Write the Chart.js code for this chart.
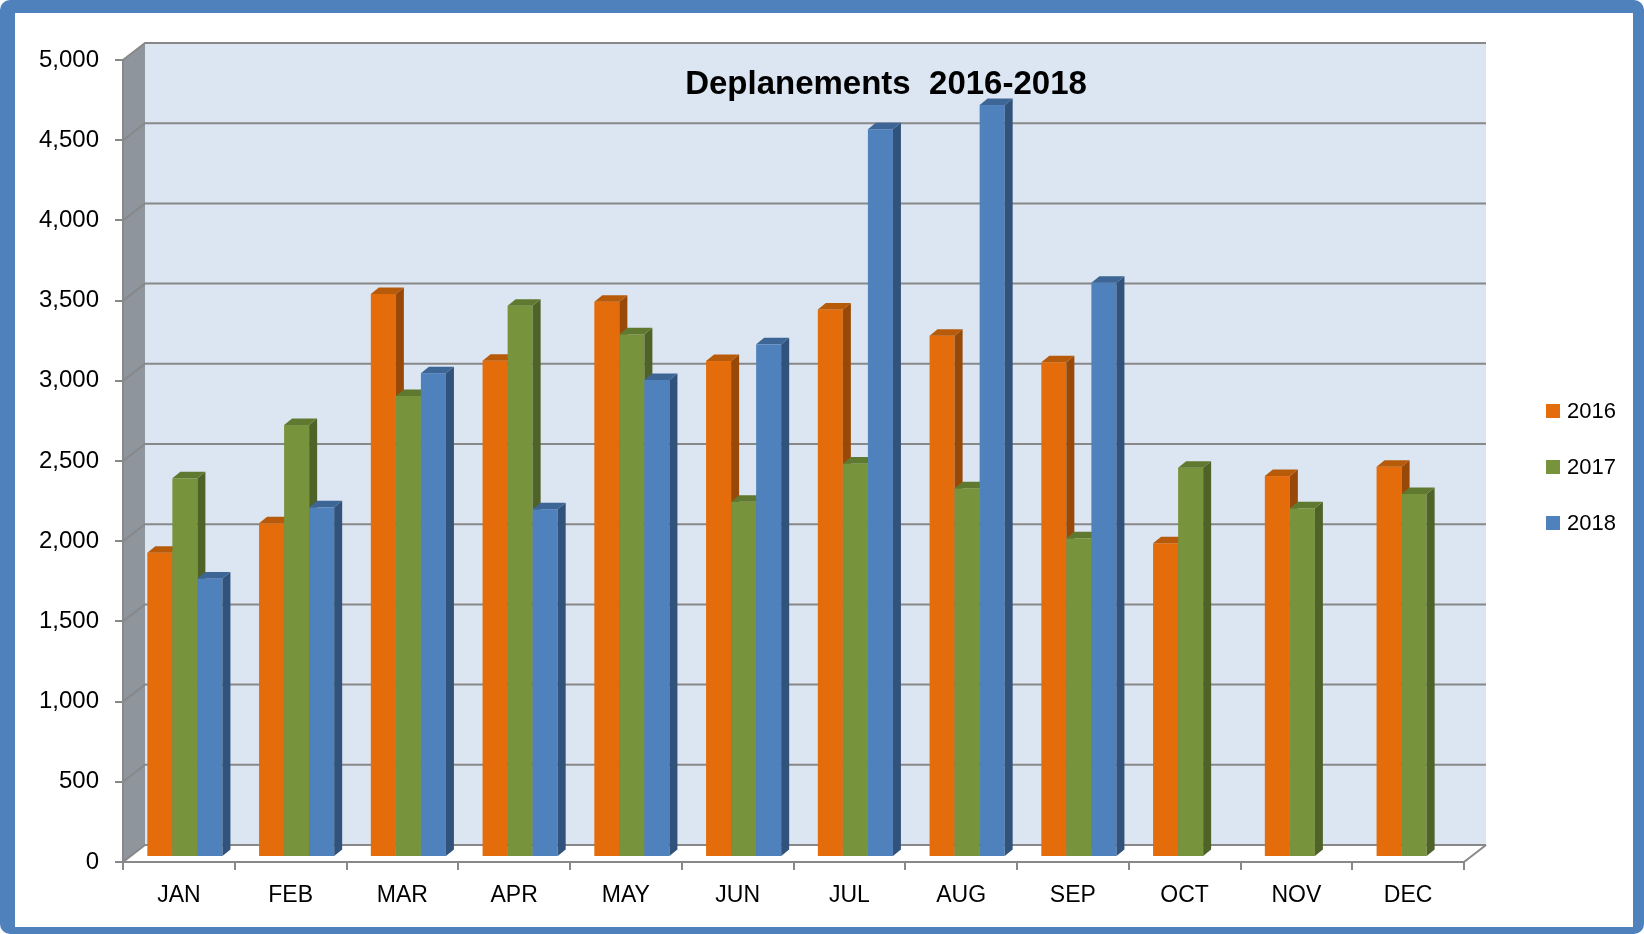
<!DOCTYPE html>
<html>
<head>
<meta charset="utf-8">
<title>Deplanements 2016-2018</title>
<script src="https://cdn.jsdelivr.net/npm/chart.js@4.4.0/dist/chart.umd.min.js"></script>
<style>
  html, body { margin: 0; padding: 0; background: #fff; }
  #frame {
    position: absolute; left: 0; top: 0; width: 1644px; height: 934px;
    box-sizing: border-box; background: #fff;
    border-style: solid; border-color: #4f81bd;
    border-width: 13px 11px 7px 15px; border-radius: 10px;
  }
  #chart { position: absolute; left: 0; top: 0; }
</style>
</head>
<body>
<div id="frame"></div>
<canvas id="chart" width="1644" height="934"></canvas>
<script>
// data
const months = ["JAN", "FEB", "MAR", "APR", "MAY", "JUN", "JUL", "AUG", "SEP", "OCT", "NOV", "DEC"];
const years = ["2016", "2017", "2018"];
const values2016 = [1897, 2080, 3510, 3094, 3462, 3092, 3414, 3250, 3084, 1956, 2375, 2433];
const values2017 = [2361, 2693, 2874, 3437, 3259, 2215, 2454, 2299, 1987, 2427, 2174, 2263];
const values2018 = [1737, 2180, 3016, 2168, 2974, 3196, 4537, 4688, 3580, null, null, null];
const yTicks = [0, 500, 1000, 1500, 2000, 2500, 3000, 3500, 4000, 4500, 5000];

// front / side / top colours per series
const faceColors = ["#e46c0a", "#77933c", "#4f81bd"];
const sideColors = ["#984807", "#4f6228", "#31527a"];
const topColors = ["#b75a0a", "#5f7a30", "#3d6696"];

const FONT = '"Liberation Sans", Arial, sans-serif';
const GRID = "#888888";

const DX = 22, DY = 17;   // depth of the walls
const BX = 6, BY = 5;     // bars sit a little behind the front edge
const SX = 8, SY = 6.5;   // depth of each bar

function poly(ctx, pts, fill) {
  ctx.beginPath();
  ctx.moveTo(pts[0][0], pts[0][1]);
  for (let i = 1; i < pts.length; i++) ctx.lineTo(pts[i][0], pts[i][1]);
  ctx.closePath();
  ctx.fillStyle = fill;
  ctx.fill();
}

const box3d = {
  id: "box3d",
  beforeDraw(chart) {
    const { ctx, chartArea: a, scales } = chart;
    const y = scales.y;
    ctx.save();
    // back wall
    ctx.fillStyle = "#dce6f2";
    ctx.fillRect(a.left + DX, a.top - DY, a.right - a.left, a.bottom - a.top);
    // left wall
    poly(ctx, [[a.left, a.top], [a.left + DX, a.top - DY], [a.left + DX, a.bottom - DY], [a.left, a.bottom]], "#8e959d");
    // floor
    poly(ctx, [[a.left, a.bottom], [a.left + DX, a.bottom - DY], [a.right + DX, a.bottom - DY], [a.right, a.bottom]], "#ffffff");
    // gridlines over left wall and back wall
    ctx.strokeStyle = GRID;
    ctx.lineWidth = 2;
    y.ticks.forEach((t) => {
      const py = y.getPixelForValue(t.value);
      ctx.beginPath();
      ctx.moveTo(a.left, py);
      ctx.lineTo(a.left + DX, py - DY);
      ctx.lineTo(a.right + DX, py - DY);
      ctx.stroke();
    });
    // right edge of the floor
    ctx.beginPath();
    ctx.moveTo(a.right, a.bottom);
    ctx.lineTo(a.right + DX, a.bottom - DY);
    ctx.stroke();
    ctx.restore();
  },
  beforeDatasetsDraw(chart) {
    const ctx = chart.ctx;
    const metas = chart.data.datasets.map((d, i) => chart.getDatasetMeta(i));
    ctx.save();
    months.forEach((m, idx) => {
      metas.forEach((meta, s) => {
        const bar = meta.data[idx];
        const v = chart.data.datasets[s].data[idx];
        if (!bar || v === null || v === undefined) return;
        const x0 = bar.x - bar.width / 2 + BX;
        const x1 = bar.x + bar.width / 2 + BX;
        const yt = bar.y - BY;
        const yb = bar.base - BY;
        ctx.fillStyle = faceColors[s];
        ctx.fillRect(x0, yt, x1 - x0, yb - yt);
        poly(ctx, [[x1, yb], [x1, yt], [x1 + SX, yt - SY], [x1 + SX, yb - SY]], sideColors[s]);
        poly(ctx, [[x0, yt], [x0 + SX, yt - SY], [x1 + SX, yt - SY], [x1, yt]], topColors[s]);
      });
    });
    ctx.restore();
    return false;
  },
  afterDraw(chart) {
    const ctx = chart.ctx;
    ctx.save();
    // title
    ctx.fillStyle = "#000";
    ctx.font = "bold 33px " + FONT;
    ctx.textAlign = "center";
    ctx.textBaseline = "alphabetic";
    ctx.fillText("Deplanements  2016-2018", 886, 94);
    // legend
    ctx.font = "22px " + FONT;
    ctx.textAlign = "left";
    ctx.textBaseline = "middle";
    years.forEach((yr, i) => {
      const cy = 411 + 56 * i;
      ctx.fillStyle = faceColors[i];
      ctx.fillRect(1546, cy - 7, 14, 14);
      ctx.fillStyle = "#000";
      ctx.fillText(yr, 1567, cy + 1);
    });
    ctx.restore();
  }
};

Chart.defaults.font.family = FONT;
Chart.defaults.color = "#000";

new Chart(document.getElementById("chart"), {
  type: "bar",
  data: {
    labels: months,
    datasets: [
      { label: years[0], data: values2016, backgroundColor: faceColors[0] },
      { label: years[1], data: values2017, backgroundColor: faceColors[1] },
      { label: years[2], data: values2018, backgroundColor: faceColors[2] },
    ],
  },
  options: {
    responsive: false,
    animation: false,
    layout: { padding: { left: 0, top: 60, right: 180, bottom: 0 } },
    datasets: { bar: { categoryPercentage: 0.672, barPercentage: 1 } },
    plugins: { legend: { display: false }, tooltip: { enabled: false }, title: { display: false } },
    scales: {
      x: {
        afterFit(scale) { scale.height = 72; },
        grid: { offset: true, drawOnChartArea: false, tickLength: 8, color: GRID, lineWidth: 2 },
        border: { color: GRID, width: 2 },
        ticks: { font: { size: 23 }, padding: 12, color: "#000" },
      },
      y: {
        min: 0,
        max: 5000,
        afterFit(scale) { scale.width = 123; },
        afterBuildTicks(scale) { scale.ticks = yTicks.map((v) => ({ value: v })); },
        grid: { drawOnChartArea: false, tickLength: 8, color: GRID, lineWidth: 2 },
        border: { color: GRID, width: 2 },
        ticks: { font: { size: 24 }, padding: 16, color: "#000" },
      },
    },
  },
  plugins: [box3d],
});
</script>
</body>
</html>
